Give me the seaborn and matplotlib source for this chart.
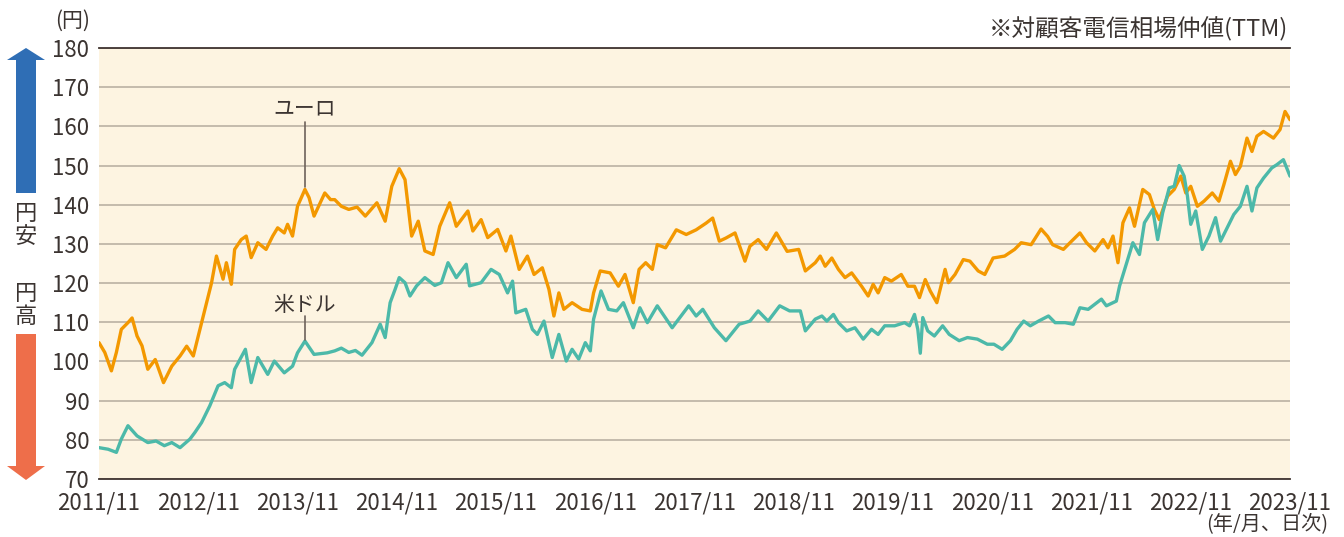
import matplotlib
matplotlib.use("Agg")
import matplotlib.pyplot as plt
from matplotlib.patches import Polygon
import seaborn as sns

# months since 2011/11 and rate (yen)
eur_m = [0, 0.7, 1.5, 2.1, 2.7, 3.5, 4.0, 4.6, 5.2, 5.9, 6.8, 7.8, 8.8, 9.8, 10.6, 11.4,
         12.0, 12.6, 13.0, 13.6, 14.2, 15.0, 15.4, 16.0, 16.4, 17.2, 17.8, 18.4, 19.2, 20.2,
         21.0, 21.6, 22.4, 22.8, 23.4, 24.0, 24.9, 25.4, 26.0, 27.3, 28.0, 28.5, 29.3, 30.2,
         31.2, 32.2, 33.6, 34.6, 35.4, 36.3, 37.0, 37.8, 38.6, 39.4, 40.4, 41.2, 42.4, 43.2,
         44.6, 45.2, 46.2, 47.0, 48.2, 49.2, 49.8, 50.8, 51.8, 52.6, 53.6, 54.4, 55.0, 55.6,
         56.2, 57.2, 58.4, 59.4, 59.8, 60.6, 61.8, 62.8, 63.6, 64.6, 65.3, 66.1, 66.9, 67.5,
         68.5, 69.8, 71.0, 72.2, 73.4, 74.2, 75.0, 75.8, 76.9, 78.1, 78.7, 79.7, 80.7, 81.9,
         83.2, 84.6, 85.4, 86.6, 87.2, 87.8, 88.6, 89.4, 90.2, 91.0, 92.2, 93.0, 93.6, 94.2,
         95.0, 95.8, 97.0, 97.8, 98.6, 99.2, 99.9, 100.5, 101.3, 102.3, 102.7, 103.5, 104.5,
         105.3, 106.3, 107.1, 108.1, 109.5, 110.7, 111.5, 112.7, 113.9, 114.7, 115.3, 116.6,
         117.4, 118.6, 119.4, 120.4, 121.4, 122.0, 122.6, 123.2, 123.8, 124.6, 125.2, 126.2,
         127.0, 127.6, 128.2, 129.2, 130.0, 130.8, 131.4, 132.0, 132.8, 133.6, 134.6, 135.4,
         136.0, 136.8, 137.4, 138.0, 138.8, 139.4, 140.0, 140.8, 142.0, 142.8, 143.4, 144.0]
eur_v = [104.8, 102.3, 97.6, 102.3, 108.2, 109.9, 111.1, 106.5, 104.0, 98.0, 100.5, 94.6,
         98.8, 101.4, 103.9, 101.4, 106.5, 111.6, 115.0, 120.0, 126.9, 121.0, 125.2, 119.7,
         128.6, 131.1, 132.0, 126.5, 130.3, 128.6, 132.0, 134.1, 132.8, 135.0, 132.0, 139.6,
         143.9, 141.8, 137.1, 143.0, 141.3, 141.3, 139.6, 138.8, 139.4, 137.1, 140.5, 135.8,
         144.7, 149.2, 146.4, 132.0, 135.8, 128.2, 127.3, 134.5, 140.5, 134.5, 138.4, 133.3,
         136.2, 131.6, 133.7, 128.2, 132.0, 123.5, 126.9, 122.2, 123.9, 118.4, 111.6, 117.5,
         113.3, 115.0, 113.3, 112.9, 117.5, 123.1, 122.6, 119.2, 122.2, 115.0, 123.5, 125.2,
         123.5, 129.8, 129.0, 133.6, 132.4, 133.6, 135.3, 136.6, 130.7, 131.5, 132.8, 125.6,
         129.4, 131.1, 128.6, 132.8, 128.1, 128.6, 123.1, 125.2, 126.9, 124.3, 126.4, 123.5,
         121.4, 122.6, 119.2, 116.7, 119.7, 117.5, 121.4, 120.5, 122.2, 119.2, 119.2, 116.3,
         120.9, 118.0, 115.0, 123.5, 120.1, 122.2, 126.0, 125.6, 123.1, 122.2, 126.4, 126.9,
         128.6, 130.3, 129.8, 133.8, 131.9, 129.8, 128.6, 130.3, 132.8, 130.3, 128.2, 131.1,
         129.0, 132.0, 125.2, 135.4, 139.2, 134.5, 143.9, 142.6, 138.8, 136.2, 142.2, 143.9,
         147.3, 143.0, 144.7, 139.6, 140.9, 143.0, 140.9, 145.1, 151.1, 147.7, 149.8, 157.0,
         153.6, 157.5, 158.7, 157.0, 159.2, 163.8, 161.7]

usd_m = [0, 1.1, 2.1, 2.7, 3.5, 4.6, 5.9, 6.9, 7.9, 8.8, 9.8, 11.0, 11.6, 12.4, 13.4, 14.4,
         15.2, 16.0, 16.4, 17.7, 18.4, 19.2, 20.4, 21.2, 22.4, 23.4, 24.0, 24.9, 26.0, 27.6,
         28.5, 29.3, 30.2, 31.0, 31.8, 33.0, 34.0, 34.6, 35.2, 35.8, 36.3, 37.0, 37.6, 38.4,
         39.4, 40.6, 41.4, 42.2, 43.2, 44.4, 44.8, 46.2, 47.4, 48.4, 49.4, 50.0, 50.4, 51.6,
         52.4, 53.0, 53.8, 54.8, 55.6, 56.5, 57.2, 58.0, 58.8, 59.4, 59.8, 60.7, 61.6, 62.6,
         63.4, 64.6, 65.4, 66.3, 67.5, 69.3, 71.3, 72.2, 73.0, 74.4, 75.8, 77.4, 78.7, 79.7,
         80.9, 82.3, 83.5, 84.8, 85.4, 86.6, 87.4, 88.0, 88.8, 89.4, 90.4, 91.4, 92.4, 93.4,
         94.2, 95.0, 96.2, 97.4, 98.0, 98.6, 99.0, 99.3, 99.6, 100.2, 101.0, 102.0, 102.8,
         104.0, 105.0, 106.2, 107.4, 108.2, 109.2, 110.2, 111.0, 111.8, 112.6, 113.6, 114.8,
         115.6, 116.8, 117.8, 118.6, 119.6, 121.2, 121.8, 123.0, 123.4, 124.2, 125.0, 125.8,
         126.4, 127.4, 128.0, 128.6, 129.4, 130.0, 130.6, 131.2, 131.6, 132.0, 132.6, 133.4,
         134.2, 135.0, 135.6, 136.4, 137.2, 138.0, 138.8, 139.4, 140.0, 140.8, 141.8, 142.4,
         143.2, 144.0]
usd_v = [78.0, 77.6, 76.8, 80.2, 83.6, 81.0, 79.3, 79.7, 78.5, 79.3, 78.0, 80.2, 81.9, 84.4,
         88.7, 93.8, 94.6, 93.3, 98.0, 103.1, 94.6, 101.0, 96.7, 100.1, 97.1, 98.8, 102.2,
         105.2, 101.8, 102.2, 102.7, 103.4, 102.3, 102.8, 101.6, 104.8, 109.5, 106.1, 115.0,
         118.4, 121.4, 120.1, 116.7, 119.3, 121.4, 119.4, 120.1, 125.2, 121.4, 124.8, 119.3,
         120.1, 123.5, 122.2, 117.5, 120.5, 112.4, 113.3, 108.2, 106.9, 110.3, 101.0, 106.9,
         100.1, 103.1, 100.6, 104.8, 102.7, 110.8, 118.0, 113.3, 112.9, 115.0, 108.6, 113.7,
         109.9, 114.2, 108.6, 114.2, 111.6, 113.3, 108.6, 105.3, 109.5, 110.3, 112.9, 110.3,
         114.2, 112.9, 112.9, 107.8, 110.8, 111.6, 110.3, 112.0, 109.9, 107.8, 108.6, 105.7,
         108.2, 106.9, 109.1, 109.1, 109.9, 109.1, 112.0, 108.2, 102.1, 111.2, 107.8, 106.5,
         109.1, 106.9, 105.3, 106.1, 105.7, 104.4, 104.4, 103.1, 105.3, 108.2, 110.3, 109.1,
         110.3, 111.6, 109.9, 109.9, 109.5, 113.7, 113.3, 115.9, 114.2, 115.4, 119.3, 124.8,
         130.3, 127.3, 135.4, 138.8, 131.1, 137.9, 144.3, 144.7, 150.0, 147.3, 142.2, 135.0,
         138.4, 128.6, 132.0, 136.7, 130.7, 134.1, 137.5, 139.6, 144.7, 138.4, 144.3, 146.8,
         149.4, 150.2, 151.5, 147.3]

year_ticks = [0, 12, 24, 36, 48, 60, 72, 84, 96, 108, 120, 132, 144]
year_labels = ["2011/11", "2012/11", "2013/11", "2014/11", "2015/11", "2016/11", "2017/11",
               "2018/11", "2019/11", "2020/11", "2021/11", "2022/11", "2023/11"]

W, H = 1344, 537
sns.set_style("white")
plt.rcParams['font.family'] = ['Noto Sans CJK JP', 'DejaVu Sans']
txt = '#3b3431'

fig = plt.figure(figsize=(W / 100, H / 100), dpi=100)
ax = fig.add_axes([99 / W, 1 - 479 / H, (1290 - 99) / W, (479 - 48) / H])
ax.set_facecolor('#fdf4e1')

sns.lineplot(x=eur_m, y=eur_v, color='#f39800', lw=2.4, ax=ax, zorder=3)
sns.lineplot(x=usd_m, y=usd_v, color='#4cb9a9', lw=2.4, ax=ax, zorder=3)

ax.set_xlim(0, 144)
ax.set_ylim(70, 180)
ax.set_yticks(range(70, 181, 10))
ax.set_xticks(year_ticks)
ax.set_xticklabels(year_labels)
ax.yaxis.grid(True, color='#bfb6a8', lw=1.3)
ax.xaxis.grid(False)
for s in ['left', 'right']:
    ax.spines[s].set_visible(False)
for s in ['top', 'bottom']:
    ax.spines[s].set_color('#3f3430')
    ax.spines[s].set_linewidth(1.3)
ax.tick_params(axis='y', length=0, pad=7, labelsize=16, labelcolor=txt)
ax.tick_params(axis='x', direction='out', length=6, width=1.2, color='#3f3430',
               pad=3, labelsize=16, labelcolor=txt)
ax.set_xlabel('')
ax.set_ylabel('')

# series labels with leader lines
ax.plot([24.9, 24.9], [161.1, 144.6], color='#6e625b', lw=1.2, zorder=4)
ax.text(24.9, 164.5, 'ユーロ', ha='center', va='center', fontsize=15, color=txt)
ax.plot([24.9, 24.9], [111.5, 105.5], color='#6e625b', lw=1.2, zorder=4)
ax.text(24.9, 114.5, '米ドル', ha='center', va='center', fontsize=15, color=txt)

fig.text(90 / W, 1 - 21 / H, '(円)', ha='right', va='center', fontsize=15, color=txt)
fig.text(1288 / W, 1 - 29 / H, '※対顧客電信相場仲値(TTM)', ha='right', va='center',
         fontsize=17, color=txt)
fig.text(1328 / W, 1 - 524 / H, '(年/月、日次)', ha='right', va='center', fontsize=14.5,
         color=txt)


def arrow(tip, base, shaft_end, color):
    cx = 26
    pts = [(cx, tip), (cx + 19, base), (cx + 10, base), (cx + 10, shaft_end),
           (cx - 10, shaft_end), (cx - 10, base), (cx - 19, base)]
    pts = [(x / W, 1 - y / H) for x, y in pts]
    fig.patches.append(Polygon(pts, closed=True, transform=fig.transFigure,
                               facecolor=color, edgecolor='none'))


arrow(48, 60, 193, '#2f6eb5')
arrow(480, 466, 334, '#ee6e4a')
fig.text(26 / W, 1 - 225 / H, '円\n安', ha='center', va='center', fontsize=16,
         color=txt, linespacing=1.05)
fig.text(26 / W, 1 - 305 / H, '円\n高', ha='center', va='center', fontsize=16,
         color=txt, linespacing=1.05)

fig.savefig('out.png', dpi=100)
